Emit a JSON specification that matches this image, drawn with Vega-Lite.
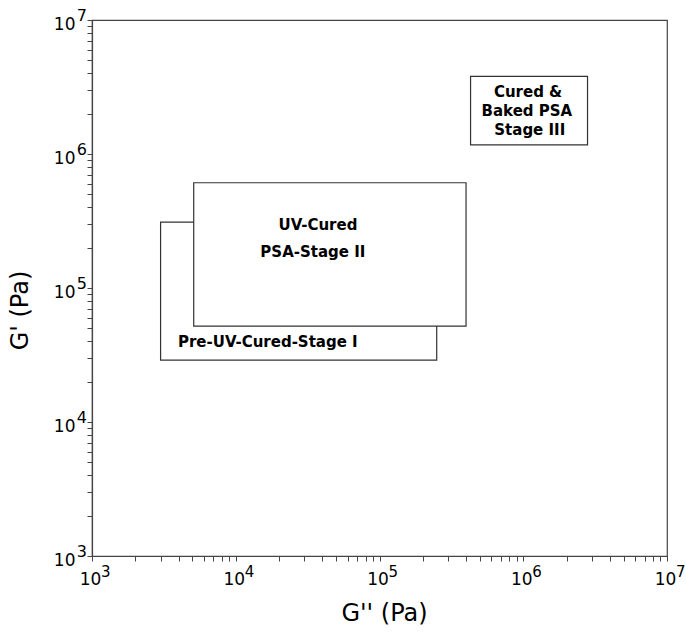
{
  "$schema": "https://vega.github.io/schema/vega-lite/v6.json",
  "width": 575,
  "height": 536,
  "autosize": "none",
  "padding": {"left": 92, "top": 20, "right": 19, "bottom": 78},
  "background": "white",
  "config": {
    "view": {"stroke": "#444", "strokeWidth": 1.2},
    "axis": {
      "domainColor": "#444",
      "domainWidth": 1.2,
      "tickColor": "#444",
      "tickSize": 5,
      "grid": false,
      "labelFont": "DejaVu Sans",
      "labelFontSize": 17,
      "labelColor": "black",
      "titleFont": "DejaVu Sans",
      "titleFontSize": 24,
      "titleFontWeight": "normal",
      "titleColor": "black",
      "labelOverlap": false,
      "labelFlush": false,
      "labelBound": false
    }
  },
  "layer": [
    {
      "data": {"values": [
        {"stage": "Stage I", "g2a": 3000, "g2b": 250000, "g1a": 29000, "g1b": 310000},
        {"stage": "Stage II", "g2a": 5100, "g2b": 400000, "g1a": 52000, "g1b": 610000},
        {"stage": "Stage III", "g2a": 430000, "g2b": 2800000, "g1a": 1170000, "g1b": 3800000}
      ]},
      "mark": {"type": "rect", "fill": "white", "stroke": "#333", "strokeWidth": 1.2},
      "encoding": {
        "x": {
          "field": "g2a", "type": "quantitative",
          "scale": {"type": "log", "domain": [1000, 10000000], "nice": false},
          "axis": {
            "title": "G'' (Pa)",
            "titleX": 292,
            "titleY": 64,
            "titleBaseline": "alphabetic",
            "values": [1000,2000,3000,4000,5000,6000,7000,8000,9000,10000,20000,30000,40000,50000,60000,70000,80000,90000,100000,200000,300000,400000,500000,600000,700000,800000,900000,1000000,2000000,3000000,4000000,5000000,6000000,7000000,8000000,9000000,10000000],
            "labelExpr": "abs(log(datum.value)/LN10 - round(log(datum.value)/LN10)) < 0.001 ? '10' : ''",
            "labelPadding": 10,
            "labelOffset": -2
          }
        },
        "x2": {"field": "g2b"},
        "y": {
          "field": "g1a", "type": "quantitative",
          "scale": {"type": "log", "domain": [1000, 10000000], "nice": false},
          "axis": {
            "title": "G' (Pa)",
            "titleX": -65,
            "titleY": 290,
            "titleBaseline": "alphabetic",
            "values": [1000,2000,3000,4000,5000,6000,7000,8000,9000,10000,20000,30000,40000,50000,60000,70000,80000,90000,100000,200000,300000,400000,500000,600000,700000,800000,900000,1000000,2000000,3000000,4000000,5000000,6000000,7000000,8000000,9000000,10000000],
            "labelExpr": "abs(log(datum.value)/LN10 - round(log(datum.value)/LN10)) < 0.001 ? '10' : ''",
            "labelPadding": 12,
            "labelOffset": 4
          }
        },
        "y2": {"field": "g1b"}
      }
    },
    {
      "data": {"values": [
        {"label": "UV-Cured", "gx": 37300, "gy": 295000},
        {"label": "PSA-Stage II", "gx": 34400, "gy": 186000},
        {"label": "Cured &", "gx": 1080000, "gy": 2900000},
        {"label": "Baked PSA", "gx": 1060000, "gy": 2090000},
        {"label": "Stage III", "gx": 1110000, "gy": 1510000}
      ]},
      "mark": {"type": "text", "font": "DejaVu Sans", "fontWeight": "bold", "fontSize": 15, "align": "center", "baseline": "middle", "color": "black"},
      "encoding": {
        "x": {"field": "gx", "type": "quantitative"},
        "y": {"field": "gy", "type": "quantitative"},
        "text": {"field": "label"}
      }
    },
    {
      "data": {"values": [
        {"label": "Pre-UV-Cured-Stage I", "gx": 3960, "gy": 39500}
      ]},
      "mark": {"type": "text", "font": "DejaVu Sans", "fontWeight": "bold", "fontSize": 15, "align": "left", "baseline": "middle", "color": "black"},
      "encoding": {
        "x": {"field": "gx", "type": "quantitative"},
        "y": {"field": "gy", "type": "quantitative"},
        "text": {"field": "label"}
      }
    },
    {
      "data": {"values": [
        {"v": 1000, "e": "3"}, {"v": 10000, "e": "4"}, {"v": 100000, "e": "5"}, {"v": 1000000, "e": "6"}, {"v": 10000000, "e": "7"}
      ]},
      "mark": {"type": "text", "font": "DejaVu Sans", "fontSize": 15, "align": "left", "baseline": "top", "dx": 9, "dy": 9, "color": "black"},
      "encoding": {
        "x": {"field": "v", "type": "quantitative"},
        "y": {"datum": 1000, "type": "quantitative"},
        "text": {"field": "e"}
      }
    },
    {
      "data": {"values": [
        {"v": 1000, "e": "3"}, {"v": 10000, "e": "4"}, {"v": 100000, "e": "5"}, {"v": 1000000, "e": "6"}, {"v": 10000000, "e": "7"}
      ]},
      "mark": {"type": "text", "font": "DejaVu Sans", "fontSize": 16, "align": "right", "baseline": "middle", "dx": -5, "dy": -4, "color": "black"},
      "encoding": {
        "x": {"datum": 1000, "type": "quantitative"},
        "y": {"field": "v", "type": "quantitative"},
        "text": {"field": "e"}
      }
    }
  ]
}
